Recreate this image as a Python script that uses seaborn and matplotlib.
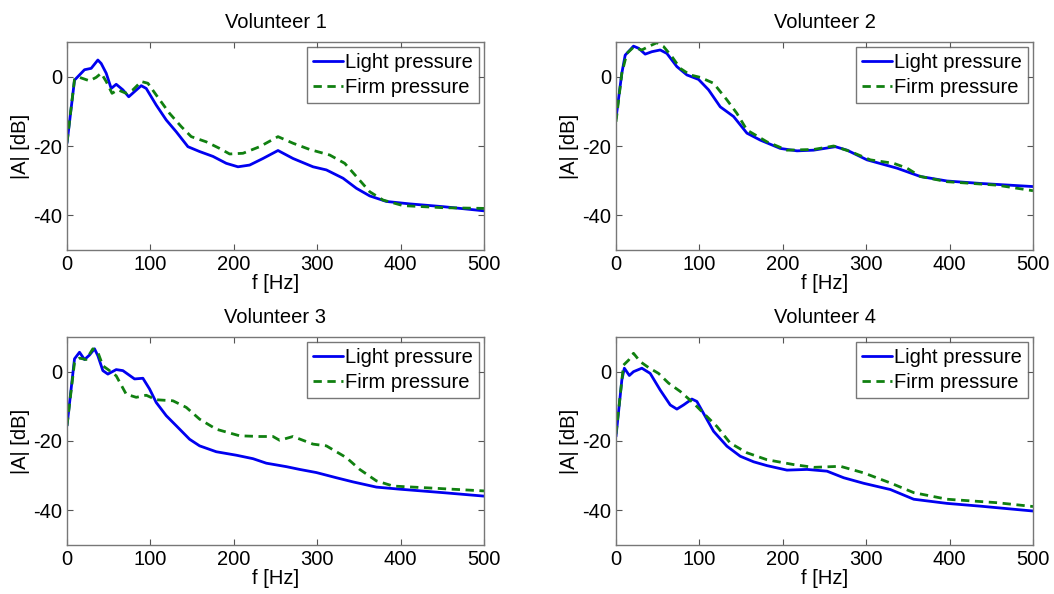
import numpy as np
import pandas as pd
import matplotlib
matplotlib.use("Agg")
import matplotlib.pyplot as plt
import seaborn as sns

titles = ["Volunteer 1", "Volunteer 2", "Volunteer 3", "Volunteer 4"]
series_names = ["Light pressure", "Firm pressure"]

v1_light_f = [0, 9, 21, 29, 37, 41, 47, 53, 59, 67, 74, 81, 89, 95, 107, 119, 131, 145, 159, 175, 191, 205, 219, 235, 253, 271, 295, 311, 331, 347, 363, 383, 411, 451, 500]
v1_light_db = [-19.2, -1, 2, 2.4, 4.8, 3.8, 1, -3.4, -2.2, -3.8, -5.8, -4.3, -2.6, -3.4, -8.2, -12.5, -15.9, -20.2, -21.6, -23, -25, -26, -25.5, -23.6, -21.3, -23.6, -26, -26.9, -29.3, -32.2, -34.4, -36, -36.7, -37.5, -38.7]
v1_firm_f = [0, 9, 15, 27, 35, 41, 47, 54, 61, 71, 79, 89, 97, 107, 123, 137, 149, 167, 183, 195, 211, 231, 253, 271, 291, 315, 333, 347, 363, 379, 403, 451, 500]
v1_firm_db = [-19, -0.8, -0.2, -1.2, -0.2, 1, -1.4, -4.8, -3.8, -4.8, -3.8, -1.4, -1.9, -5.3, -10.6, -14.4, -17.3, -18.8, -20.7, -22.3, -22.1, -20.2, -17.3, -19.2, -21, -22.6, -25, -28.8, -33.2, -35.6, -37.2, -37.8, -38]

v2_light_f = [0, 7, 11, 21, 27, 35, 43, 53, 61, 73, 85, 99, 111, 125, 141, 157, 173, 197, 217, 237, 263, 277, 301, 337, 365, 397, 437, 500]
v2_light_db = [-12, 1, 6.2, 8.8, 8.2, 6.5, 7.2, 7.7, 6.7, 2.9, 0.5, -0.8, -3.8, -8.7, -11.5, -16.3, -18.3, -20.7, -21.4, -21.2, -20.2, -21.2, -24, -26.4, -28.8, -30.1, -30.8, -31.7]
v2_firm_f = [0, 7, 13, 21, 31, 39, 49, 57, 67, 77, 89, 101, 117, 133, 145, 157, 181, 205, 237, 261, 281, 305, 333, 349, 365, 397, 457, 500]
v2_firm_db = [-13, 1, 6.7, 8.5, 7.7, 8.7, 9.8, 8.7, 5.8, 2.4, 0.5, -0.2, -1.9, -6.7, -10.6, -15.4, -18.8, -21.2, -21, -20, -21.6, -24, -25, -26.4, -28.8, -30.3, -31.3, -32.9]

v3_light_f = [0, 9, 15, 21, 27, 33, 37, 43, 49, 59, 67, 81, 91, 99, 107, 119, 131, 147, 159, 179, 203, 223, 239, 263, 279, 299, 323, 343, 371, 399, 451, 500]
v3_light_db = [-15.6, 3.7, 5.6, 3.5, 4.8, 6.6, 4.6, 0.3, -0.7, 0.6, 0.3, -2.1, -1.9, -5, -8.9, -12.7, -15.6, -19.5, -21.4, -23.1, -24.1, -25.1, -26.4, -27.4, -28.2, -29.1, -30.6, -31.8, -33.3, -33.9, -34.9, -35.9]
v3_firm_f = [0, 9, 15, 23, 31, 37, 43, 51, 59, 71, 83, 95, 107, 127, 143, 159, 179, 207, 231, 247, 255, 271, 295, 311, 335, 351, 371, 391, 431, 500]
v3_firm_db = [-15.6, 2.7, 3.9, 3.5, 6.6, 5.6, 1.7, 0.3, -1.2, -6.5, -7.4, -6.8, -8.1, -8.4, -10.3, -13.7, -16.6, -18.5, -18.7, -18.7, -19.8, -18.7, -20.9, -21.4, -24.8, -28.2, -31.5, -33, -33.5, -34.4]

v4_light_f = [0, 7, 10, 16, 21, 31, 41, 53, 65, 73, 81, 91, 97, 107, 117, 133, 149, 165, 181, 205, 229, 253, 273, 297, 329, 357, 397, 437, 500]
v4_light_db = [-18.7, -2.4, 1, -1.1, 0, 1, -0.5, -5.3, -9.6, -10.8, -9.6, -7.9, -8.6, -12.9, -17.2, -21.5, -24.4, -26, -27.1, -28.4, -28.2, -28.7, -30.6, -32.2, -34, -36.8, -38, -38.8, -40.2]
v4_firm_f = [0, 9, 15, 21, 29, 39, 51, 63, 77, 93, 105, 121, 137, 157, 181, 213, 237, 269, 297, 329, 357, 397, 457, 500]
v4_firm_db = [-18, 1.9, 3.3, 5.3, 2.9, 1.2, -0.5, -3.3, -5.7, -9.1, -12, -15.8, -20.6, -23.4, -25.4, -26.8, -27.6, -27.3, -29.2, -32.1, -34.9, -36.8, -37.8, -38.9]

x_ticks = [0, 100, 200, 300, 400, 500]
y_ticks = [-40, -20, 0]

panels = [
    (v1_light_f, v1_light_db, v1_firm_f, v1_firm_db),
    (v2_light_f, v2_light_db, v2_firm_f, v2_firm_db),
    (v3_light_f, v3_light_db, v3_firm_f, v3_firm_db),
    (v4_light_f, v4_light_db, v4_firm_f, v4_firm_db),
]

sns.set_style("white")
plt.rcParams['font.family'] = ['Liberation Sans', 'DejaVu Sans']
plt.rcParams['text.color'] = 'black'
plt.rcParams['axes.labelcolor'] = 'black'
plt.rcParams['xtick.labelcolor'] = 'black'
plt.rcParams['ytick.labelcolor'] = 'black'
plt.rcParams['axes.unicode_minus'] = False

fig = plt.figure(figsize=(10.54, 5.94), dpi=100)
W, H = 1054, 594
rects = [(67, 42), (616, 42), (67, 337), (616, 337)]
aw, ah = 417, 208

fs = 14.5
for i, (lf, ld, ff, fd) in enumerate(panels):
    x0, y0 = rects[i]
    ax = fig.add_axes([x0 / W, 1 - (y0 + ah) / H, aw / W, ah / H])
    df = pd.concat([
        pd.DataFrame({"f": lf, "db": ld, "series": series_names[0]}),
        pd.DataFrame({"f": ff, "db": fd, "series": series_names[1]}),
    ])
    sns.lineplot(data=df, x="f", y="db", hue="series", style="series",
                 palette={series_names[0]: "#0000f0", series_names[1]: "#108010"},
                 dashes={series_names[0]: "", series_names[1]: (3, 2)},
                 linewidth=2, ax=ax, sort=False, estimator=None)
    ax.set_xlim(0, 500)
    ax.set_ylim(-50, 10)
    ax.set_xticks(x_ticks)
    ax.set_yticks(y_ticks)
    ax.tick_params(axis='both', which='both', direction='in', length=4,
                   top=True, right=True, bottom=True, left=True,
                   labelsize=fs, color='#555555', pad=3.5)
    for s in ax.spines.values():
        s.set_color('#777777')
        s.set_linewidth(1)
    ax.set_title(titles[i], fontsize=fs, pad=10)
    ax.set_xlabel("f [Hz]", fontsize=fs, labelpad=0)
    ax.set_ylabel("|A| [dB]", fontsize=fs, labelpad=2)
    leg = ax.legend(loc="upper right", fontsize=fs, frameon=True, fancybox=False,
                    handlelength=1.5, handletextpad=0.1, borderpad=0.3,
                    labelspacing=0.3, borderaxespad=0.25)
    leg.get_frame().set_edgecolor('#555555')
    leg.get_frame().set_linewidth(1)
    leg.set_title(None)

fig.savefig("out.png", dpi=100, facecolor="white")
